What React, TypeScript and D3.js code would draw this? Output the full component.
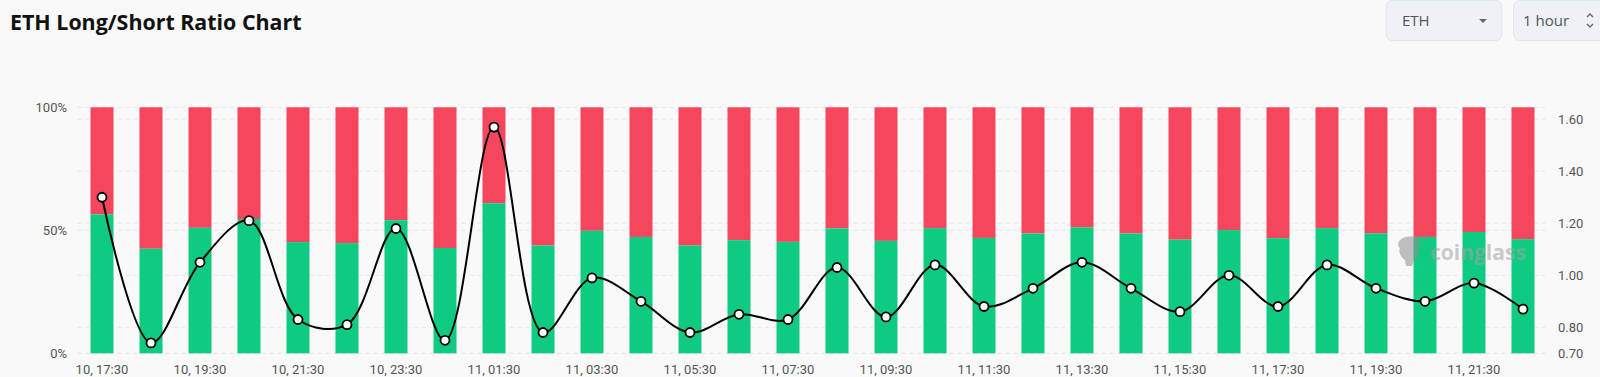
import React from 'react';
import * as d3 from 'd3';

const times = [
  "10, 17:30", "10, 18:30", "10, 19:30", "10, 20:30", "10, 21:30", "10, 22:30", "10, 23:30",
  "11, 00:30", "11, 01:30", "11, 02:30", "11, 03:30", "11, 04:30", "11, 05:30", "11, 06:30",
  "11, 07:30", "11, 08:30", "11, 09:30", "11, 10:30", "11, 11:30", "11, 12:30", "11, 13:30",
  "11, 14:30", "11, 15:30", "11, 16:30", "11, 17:30", "11, 18:30", "11, 19:30", "11, 20:30",
  "11, 21:30", "11, 22:30",
];
const longPct = [
  56.5, 42.5, 51.0, 54.6, 45.2, 44.8, 54.1, 42.8, 61.0, 43.8,
  49.8, 47.3, 43.8, 46.0, 45.3, 50.8, 45.7, 50.9, 46.9, 48.7,
  51.2, 48.7, 46.2, 50.1, 46.8, 50.9, 48.8, 47.3, 49.3, 46.4,
];
const ratio = [
  1.30, 0.74, 1.05, 1.21, 0.83, 0.81, 1.18, 0.75, 1.57, 0.78,
  0.99, 0.90, 0.78, 0.85, 0.83, 1.03, 0.84, 1.04, 0.88, 0.95,
  1.05, 0.95, 0.86, 1.00, 0.88, 1.04, 0.95, 0.90, 0.97, 0.87,
];
const leftTicks = [0, 50, 100];
const rightTicks = [0.7, 0.8, 1.0, 1.2, 1.4, 1.6];

const W = 1600, H = 377;
const plotL = 77.5, plotR = 1547.5, plotT = 107.3, plotB = 353.3;
const GREEN = '#0ecb81', RED = '#f6465d';
const AXIS_FONT = 'Roboto, "Noto Sans", sans-serif';

export default function App() {
  const idx = times.map((_, i) => i);
  const x = d3.scaleBand<number>().domain(idx).range([plotL, plotR]).paddingInner(0).paddingOuter(0);
  const yL = d3.scaleLinear().domain([0, 100]).range([plotB, plotT]);
  const yR = d3.scaleLinear().domain([0.7, 1.646]).range([plotB, plotT]);
  const bw = 23;
  const cx = (i: number) => (x(i) as number) + x.bandwidth() / 2;
  const line = d3.line<number>().x((_, i) => cx(i)).y(d => yR(d)).curve(d3.curveCatmullRom.alpha(0.5));

  return (
    <svg width={W} height={H} style={{ position: 'absolute', left: 0, top: 0, background: '#f9f9f9' }}>
      <rect x={0} y={0} width={W} height={H} fill="#f9f9f9" />
      <text x={10} y={29.5} fontFamily='"Open Sans", sans-serif' fontWeight={700} fontSize={21.4} fill="#111">ETH Long/Short Ratio Chart</text>

      {/* controls */}
      <rect x={1386} y={0.5} width={116} height={40} rx={6} fill="#eef2f6" stroke="#e1e7ee" />
      <text x={1402} y={26} fontFamily='"Open Sans", sans-serif' fontSize={15} fill="#555">ETH</text>
      <path d="M1479,19 L1487,19 L1483,23 Z" fill="#666" />
      <rect x={1513.5} y={0.5} width={100} height={40} rx={6} fill="#eef2f6" stroke="#e1e7ee" />
      <text x={1523} y={26} fontFamily='"Open Sans", sans-serif' fontSize={15} fill="#555">1 hour</text>
      <path d="M1587,17 L1590,14 L1593,17 M1587,24 L1590,27 L1593,24" fill="none" stroke="#666" strokeWidth={1.4} />

      {/* grid */}
      {leftTicks.map(t => (
        <line key={'gl' + t} x1={plotL} x2={plotR} y1={yL(t)} y2={yL(t)} stroke="#e6e6e6" strokeDasharray="4,4" />
      ))}
      {rightTicks.map(t => (
        <line key={'gr' + t} x1={plotL} x2={plotR} y1={yR(t)} y2={yR(t)} stroke="#e6e6e6" strokeDasharray="4,4" />
      ))}

      {/* bars */}
      {longPct.map((v, i) => (
        <g key={'b' + i}>
          <rect x={cx(i) - bw / 2} y={yL(100)} width={bw} height={yL(v) - yL(100)} fill={RED} />
          <rect x={cx(i) - bw / 2} y={yL(v)} width={bw} height={yL(0) - yL(v)} fill={GREEN} />
        </g>
      ))}

      {/* watermark */}
      <g opacity={0.55}>
        <path d="M1400,240 C1404,236 1414,235 1420,238 C1422,242 1420,246 1418,248 C1420,252 1418,258 1414,260 L1412,266 L1406,266 L1405,260 C1401,258 1398,252 1400,248 C1397,246 1398,242 1400,240 Z" fill="#8f8f8f" />
        <text x={1430} y={260} fontFamily='"Open Sans", sans-serif' fontWeight={700} fontSize={21} fill="#a3a3a3">coinglass</text>
      </g>

      {/* ratio line */}
      <path d={line(ratio) || ''} fill="none" stroke="#000" strokeWidth={2} />
      {ratio.map((r, i) => (
        <circle key={'p' + i} cx={cx(i)} cy={yR(r)} r={4.5} fill="#fff" stroke="#000" strokeWidth={1.8} />
      ))}

      {/* left axis */}
      {leftTicks.map(t => (
        <text key={'lt' + t} x={67} y={yL(t) + 4.5} textAnchor="end" fontFamily={AXIS_FONT} fontSize={13} fill="#555">{t}%</text>
      ))}
      {/* right axis */}
      {rightTicks.map(t => (
        <text key={'rt' + t} x={1558} y={yR(t) + 4.5} fontFamily={AXIS_FONT} fontSize={13} fill="#555">{t.toFixed(2)}</text>
      ))}
      {/* x axis */}
      {times.map((t, i) => i % 2 === 0 ? (
        <text key={'xt' + i} x={cx(i)} y={373.5} textAnchor="middle" fontFamily={AXIS_FONT} fontSize={13} fill="#555">{t}</text>
      ) : null)}
    </svg>
  );
}
